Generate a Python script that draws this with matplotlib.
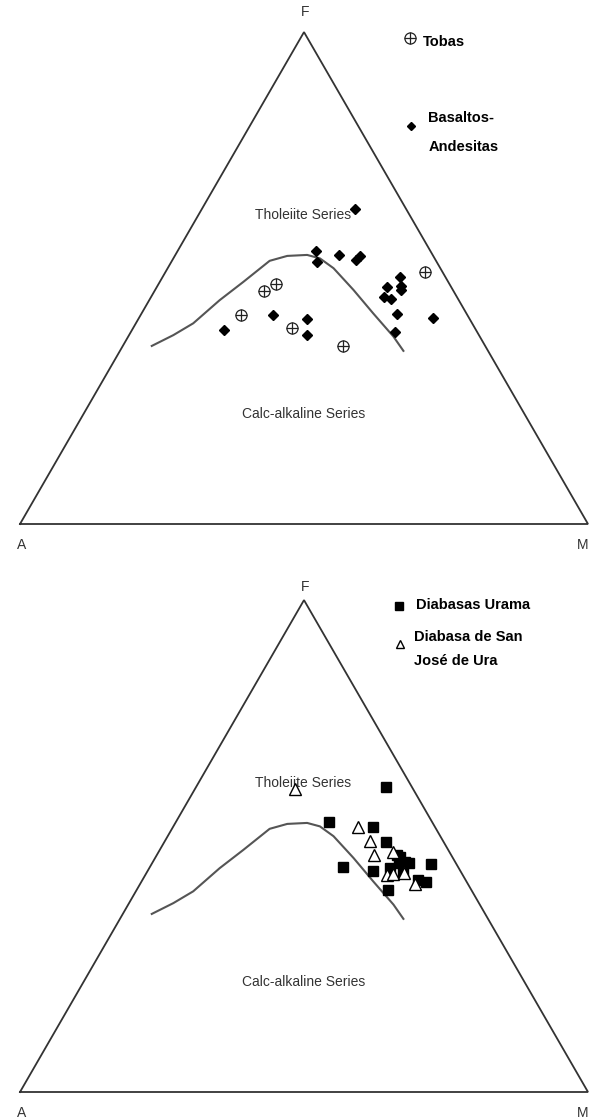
import numpy as np
import matplotlib.pyplot as plt

plt.rcParams['font.family'] = ['Liberation Sans', 'DejaVu Sans']

# AFM values in %, stored as F and M (A = 100 - F - M)

# Irvine & Baragar boundary, tholeiite / calc-alkaline
curve_f = [36.2, 38.4, 40.8, 45.5, 49.2, 53.5, 54.5, 54.7, 54.0, 52.0, 47.6, 42.8, 38.1, 35.2]
curve_m = [5.1, 7.8, 10.1, 12.4, 14.7, 17.2, 19.8, 23.2, 25.8, 29.2, 34.9, 40.8, 46.7, 49.9]

# top diagram
basaltos_f = [64.0, 55.5, 53.3, 54.7, 53.7, 54.5, 50.3, 48.2, 48.3, 47.5, 46.1, 45.7, 42.7,
              39.1, 41.9, 42.4, 41.6, 38.4, 39.5]
basaltos_m = [26.9, 24.3, 25.7, 28.8, 32.3, 32.6, 41.8, 40.5, 42.9, 43.4, 41.0, 42.5, 45.0,
              46.4, 51.7, 23.4, 29.8, 31.3, 16.2]
tobas_f = [51.3, 48.7, 47.4, 42.4, 39.8, 36.2]
tobas_m = [45.7, 20.8, 19.3, 17.7, 28.0, 38.7]

# bottom diagram
urama_f = [62.1, 54.8, 53.9, 50.9, 47.8, 46.8, 46.5, 46.5, 46.3, 45.7, 45.0, 45.5, 44.8,
           43.1, 42.7, 41.1, 48.2]
urama_m = [33.4, 27.0, 35.2, 38.9, 43.0, 44.4, 45.2, 43.4, 49.2, 34.1, 39.6, 42.4, 45.1,
           48.6, 50.2, 44.2, 42.2]
sanjose_f = [61.6, 53.8, 51.1, 48.1, 48.8, 44.1, 44.3, 44.6, 42.2]
sanjose_m = [17.7, 32.6, 36.0, 38.2, 41.3, 42.5, 43.6, 45.3, 48.4]

H = np.sqrt(3) / 2
PX = 568.0  # pixels per unit side


def tern(f, m):
    """AFM (percent) -> cartesian, A left, M right, F top"""
    f = np.asarray(f) / 100.0
    m = np.asarray(m) / 100.0
    return m + f / 2, f * H


def crosshair(ax, x, y, ms=8):
    ax.plot(x, y, 'o', ms=ms, mfc='none', mec='#222222', mew=0.9, zorder=4)
    ax.plot(x, y, '+', ms=ms, mec='#222222', mew=0.9, zorder=4)


def base_diagram(ax, f_lab_y):
    ax.plot([0, 1, 0.5, 0], [0, 0, H, 0], color='#333333', lw=1.3,
            solid_joinstyle='miter', zorder=2)
    cx, cy = tern(curve_f, curve_m)
    ax.plot(cx, cy, color='#555555', lw=1.5, zorder=2)
    ax.text(0.502, f_lab_y, 'F', ha='center', va='center', fontsize=10, color='#333333')
    ax.text(0.0035, -0.037, 'A', ha='center', va='center', fontsize=10, color='#333333')
    ax.text(1.0015, -0.037, 'M', ha='right', va='center', fontsize=10, color='#333333')
    ax.text(0.498, 0.544, 'Tholeiite Series', ha='center', va='center', fontsize=10,
            color='#333333', zorder=3)
    ax.text(0.499, 0.194, 'Calc-alkaline Series', ha='center', va='center', fontsize=10,
            color='#333333')
    ax.set_xlim(-20 / PX, 570 / PX)
    ax.axis('off')


fig = plt.figure(figsize=(5.9, 11.19), dpi=100)

# ---------------- top: Tobas / Basaltos-Andesitas
ax1 = fig.add_axes([0, 0.5, 1, 0.5])
base_diagram(ax1, (524 - 12) / PX)
ax1.set_ylim(-35.5 / PX, 524 / PX)
bx, by = tern(basaltos_f, basaltos_m)
ax1.plot(bx, by, 'D', ms=5.5, color='black', zorder=4, linestyle='none')
tx, ty = tern(tobas_f, tobas_m)
crosshair(ax1, tx, ty)

crosshair(ax1, [0.687], [0.856])
ax1.text(0.710, 0.849, 'Tobas', fontsize=10.5, fontweight='bold', va='center', ha='left')
ax1.plot([0.688], [0.701], 'D', ms=4.5, color='black')
ax1.text(0.719, 0.715, 'Basaltos-', fontsize=10.5, fontweight='bold', va='center', ha='left')
ax1.text(0.719, 0.664, 'Andesitas', fontsize=10.5, fontweight='bold', va='center', ha='left')

# ---------------- bottom: Diabasas
ax2 = fig.add_axes([0, 0, 1, 0.5])
base_diagram(ax2, (1092 - 587) / PX)
ax2.set_ylim(-27 / PX, 532.5 / PX)
ux, uy = tern(urama_f, urama_m)
ax2.plot(ux, uy, 's', ms=6.5, color='black', zorder=4, linestyle='none')
sx, sy = tern(sanjose_f, sanjose_m)
ax2.plot(sx, sy, '^', ms=9, mfc='white', mec='black', mew=1.0, zorder=5, linestyle='none')

ax2.plot([0.667], [0.856], 's', ms=5.5, color='black')
ax2.text(0.697, 0.858, 'Diabasas Urama', fontsize=10.5, fontweight='bold', va='center', ha='left')
ax2.plot([0.669], [0.789], '^', ms=6, mfc='white', mec='black', mew=1.0)
ax2.text(0.694, 0.801, 'Diabasa de San', fontsize=10.5, fontweight='bold', va='center', ha='left')
ax2.text(0.694, 0.759, 'José de Ura', fontsize=10.5, fontweight='bold', va='center', ha='left')

fig.savefig('out.png', dpi=100, facecolor='white')
